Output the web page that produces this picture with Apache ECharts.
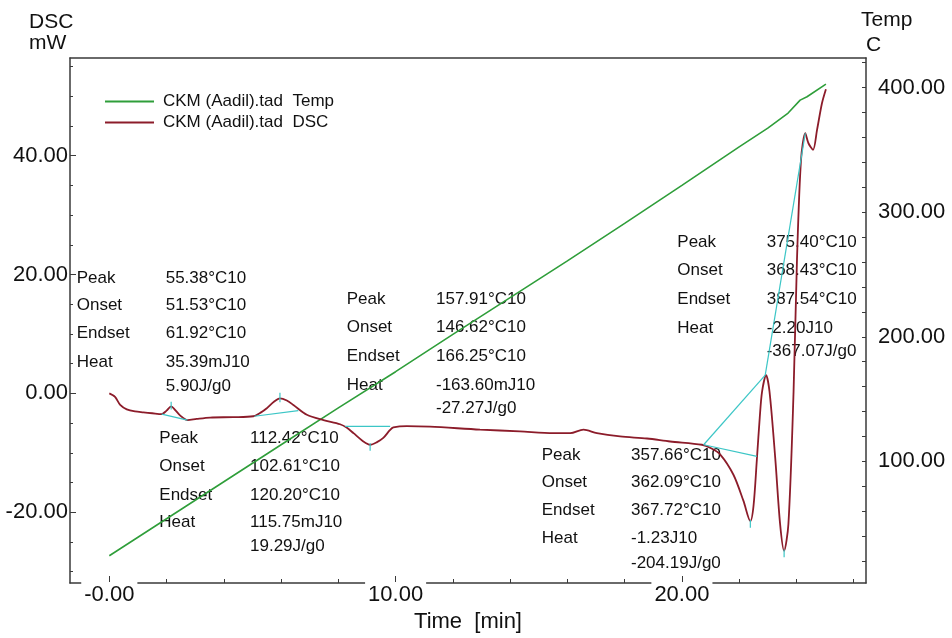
<!DOCTYPE html>
<html><head><meta charset="utf-8">
<script src="https://cdn.jsdelivr.net/npm/echarts@6/dist/echarts.min.js"></script>
<style>html,body{margin:0;padding:0;background:#fff}#c{width:952px;height:638px}</style>
</head><body><div id="c"></div>
<script>
// ---------- data ----------
const tempName = 'CKM (Aadil).tad  Temp';
const dscName = 'CKM (Aadil).tad  DSC';

const tempTime = [0, 2, 4, 6, 8, 10, 12, 14, 16, 18, 20, 22, 23, 23.71, 24.13, 24.37, 25.03];
const tempC    = [24.3, 54, 83.7, 113.4, 143, 172, 202, 231.5, 261, 291, 321.5, 352.5, 367.5, 379.6, 390, 392.7, 402.8];

const dscTime = [0.00,0.20,0.38,0.61,0.90,1.19,1.50,1.83,2.00,2.16,2.30,2.47,2.73,3.05,3.52,4.33,5.03,5.30,5.50,5.75,5.96,6.20,6.43,6.90,7.48,8.06,8.30,8.53,8.85,9.11,9.35,9.57,9.80,9.92,10.39,11.20,12.95,14.34,15.51,16.10,16.56,17.03,17.84,18.78,19.59,20.70,21.00,21.34,21.80,22.15,22.39,22.50,22.62,22.72,22.80,22.94,23.06,23.26,23.43,23.57,23.72,23.90,24.02,24.16,24.31,24.42,24.58,24.72,24.89,25.03];
const dscMW   = [0.0,-0.6,-1.95,-2.7,-3.05,-3.2,-3.35,-3.5,-2.9,-2.2,-2.8,-3.7,-4.5,-4.3,-4.07,-4.0,-3.85,-3.2,-2.5,-1.4,-0.84,-1.2,-1.95,-3.6,-4.5,-5.2,-5.8,-6.7,-8.0,-8.65,-8.2,-7.5,-6.2,-5.74,-5.5,-5.6,-6.1,-6.4,-6.7,-6.7,-6.1,-6.7,-7.25,-7.6,-8.1,-8.65,-9.2,-10.3,-13.7,-18.1,-21.5,-19.0,-11.0,-4.0,0.3,3.06,0.28,-10.9,-22.0,-26.5,-22.0,0.28,22.6,39.3,43.8,42.1,41.0,44.35,48.8,51.2];

// analysis baselines and peak markers (time, mW)
const baselineSegments = [
  [[1.83,-3.5],[2.73,-4.5]],
  [[2.16,-1.4],[2.16,-2.7]],
  [[5.07,-3.85],[6.60,-2.9]],
  [[5.96,0.1],[5.96,-1.5]],
  [[8.24,-5.57],[9.81,-5.57]],
  [[9.11,-8.4],[9.11,-9.65]],
  [[20.76,-8.65],[22.91,3.06]],
  [[20.76,-8.65],[22.62,-10.6]],
  [[22.91,3.06],[24.31,43.8]],
  [[22.39,-21.3],[22.39,-22.6]],
  [[23.57,-26.3],[23.57,-27.6]]
];

const xTickValues = [0, 10, 20];
const xTickLabels = ['-0.00', '10.00', '20.00'];
const leftTickValues = [-20, 0, 20, 40];
const leftTickLabels = ['-20.00', '0.00', '20.00', '40.00'];
const rightTickValues = [100, 200, 300, 400];
const rightTickLabels = ['100.00', '200.00', '300.00', '400.00'];

const rowNames = ['Peak', 'Onset', 'Endset', 'Heat'];
const block1Values = ['55.38°C10', '51.53°C10', '61.92°C10', '35.39mJ10', '5.90J/g0'];
const block2Values = ['157.91°C10', '146.62°C10', '166.25°C10', '-163.60mJ10', '-27.27J/g0'];
const block3Values = ['112.42°C10', '102.61°C10', '120.20°C10', '115.75mJ10', '19.29J/g0'];
const block4Values = ['357.66°C10', '362.09°C10', '367.72°C10', '-1.23J10', '-204.19J/g0'];
const block5Values = ['375.40°C10', '368.43°C10', '387.54°C10', '-2.20J10', '-367.07J/g0'];

// ---------- chart ----------
const FONT = '"Liberation Sans", Arial, sans-serif';
const AX = '#3a3a3a';
function steps(a, b, s) { const r = []; for (let v = a; v <= b + 1e-9; v += s) r.push(+v.toFixed(6)); return r; }
function fmtFrom(vals, labels) { return v => { const i = vals.findIndex(x => Math.abs(x - v) < 1e-6); return i >= 0 ? labels[i] : ''; }; }

const X_MIN = -1.373, X_MAX = 26.43;
const L_MIN = -31.92, L_MAX = 56.45;
const R_MIN = 2.4, R_MAX = 423.8;

const layout = [
  { vals: block1Values, lx: 76.7, vx: 165.7, ys: [278.3, 305.5, 333.5, 362.3, 386.7] },
  { vals: block2Values, lx: 346.7, vx: 436, ys: [299.3, 327.7, 356, 385, 408.3] },
  { vals: block3Values, lx: 159.3, vx: 250, ys: [438.3, 466.7, 495, 522.7, 546.7] },
  { vals: block4Values, lx: 541.7, vx: 631, ys: [455, 482.3, 510.7, 538.3, 563.3] },
  { vals: block5Values, lx: 677.3, vx: 766.7, ys: [242.7, 270.7, 299.3, 328.3, 351.7] }
];

const graphic = [];
function txt(text, x, y, size) {
  graphic.push({ type: 'text', x: x, y: y, silent: true,
    style: { text: text, fontSize: size, fontFamily: FONT, fill: '#111', align: 'left', verticalAlign: 'middle' } });
}
layout.forEach(b => {
  rowNames.forEach((n, i) => txt(n, b.lx, b.ys[i], 17));
  b.vals.forEach((v, i) => txt(v, b.vx, b.ys[i], 17));
});
txt('DSC', 29, 22, 21);
txt('mW', 29, 43, 21);
txt('Temp', 861, 20, 21);
txt('C', 866, 45, 21);

const cyanSeries = baselineSegments.map(seg => ({
  type: 'line', data: seg, xAxisIndex: 0, yAxisIndex: 0, showSymbol: false, silent: true,
  lineStyle: { color: '#3cc6c6', width: 1.2 }, z: 4, animation: false
}));

const option = {
  animation: false,
  backgroundColor: '#fff',
  grid: { left: 70, right: 86, top: 58, bottom: 52, containLabel: false },
  legend: {
    data: [tempName, dscName], orient: 'vertical', left: 105, top: 91, padding: 0,
    itemWidth: 49, itemHeight: 2, itemGap: 0, icon: 'rect',
    textStyle: { fontSize: 17, fontFamily: FONT, color: '#111', lineHeight: 21, padding: [0, 0, 0, 4] }
  },
  xAxis: [
    { type: 'value', min: X_MIN, max: X_MAX, position: 'bottom',
      name: 'Time  [min]', nameLocation: 'middle', nameGap: 28,
      nameTextStyle: { fontSize: 22, fontFamily: FONT, color: '#111' },
      axisLine: { show: true, onZero: false, lineStyle: { color: AX, width: 1.5 } },
      axisTick: { show: true, inside: true, length: 4, customValues: steps(0, 26, 2), lineStyle: { color: AX } },
      axisLabel: { show: true, customValues: xTickValues, formatter: fmtFrom(xTickValues, xTickLabels),
        fontSize: 22, fontFamily: FONT, color: '#111', margin: -1, backgroundColor: '#fff', padding: [2, 3, 0, 3] },
      splitLine: { show: false } },
    { type: 'value', min: X_MIN, max: X_MAX, position: 'bottom',
      axisLine: { show: false, onZero: false },
      axisTick: { show: true, inside: true, length: 7, customValues: xTickValues, lineStyle: { color: AX } },
      axisLabel: { show: false }, splitLine: { show: false } },
    { type: 'value', min: X_MIN, max: X_MAX, position: 'top',
      axisLine: { show: true, onZero: false, lineStyle: { color: AX, width: 1.5 } },
      axisTick: { show: false }, axisLabel: { show: false }, splitLine: { show: false } }
  ],
  yAxis: [
    { type: 'value', min: L_MIN, max: L_MAX, position: 'left',
      axisLine: { show: true, onZero: false, lineStyle: { color: AX, width: 1.5 } },
      axisTick: { show: true, inside: true, length: 3, customValues: steps(-30, 55, 5), lineStyle: { color: AX } },
      axisLabel: { show: true, customValues: leftTickValues, formatter: fmtFrom(leftTickValues, leftTickLabels),
        fontSize: 22, fontFamily: FONT, color: '#111', margin: 2 },
      splitLine: { show: false } },
    { type: 'value', min: R_MIN, max: R_MAX, position: 'right',
      axisLine: { show: true, onZero: false, lineStyle: { color: AX, width: 1.5 } },
      axisTick: { show: true, inside: true, length: 4, customValues: steps(20, 420, 20), lineStyle: { color: AX } },
      axisLabel: { show: true, customValues: rightTickValues, formatter: fmtFrom(rightTickValues, rightTickLabels),
        fontSize: 22, fontFamily: FONT, color: '#111', margin: 12 },
      splitLine: { show: false } },
    { type: 'value', min: L_MIN, max: L_MAX, position: 'left',
      axisLine: { show: false, onZero: false },
      axisTick: { show: true, inside: true, length: 6, customValues: leftTickValues, lineStyle: { color: AX } },
      axisLabel: { show: false }, splitLine: { show: false } }
  ],
  series: [
    { name: tempName, type: 'line', xAxisIndex: 0, yAxisIndex: 1,
      data: tempTime.map((t, i) => [t, tempC[i]]), showSymbol: false, smooth: false,
      itemStyle: { color: '#2f9e3a' }, lineStyle: { color: '#2f9e3a', width: 1.6 }, z: 3 },
    { name: dscName, type: 'line', xAxisIndex: 0, yAxisIndex: 0,
      data: dscTime.map((t, i) => [t, dscMW[i]]), showSymbol: false, smooth: 0.3,
      itemStyle: { color: '#8c1c2a' }, lineStyle: { color: '#8c1c2a', width: 1.8 }, z: 3 }
  ].concat(cyanSeries),
  graphic: graphic
};

const chart = echarts.init(document.getElementById('c'), null, { renderer: 'canvas' });
chart.setOption(option);
</script>
</body></html>
